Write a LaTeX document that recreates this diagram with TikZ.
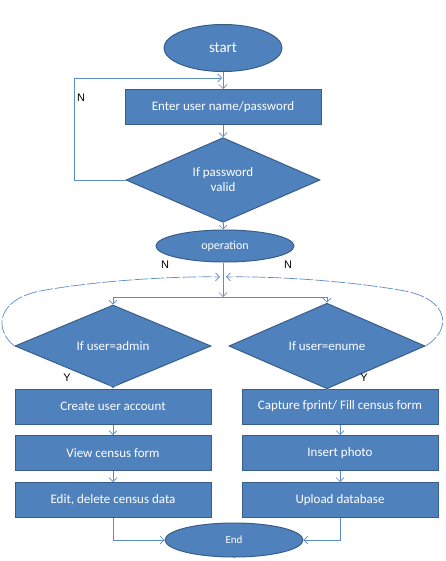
\documentclass[tikz,border=0pt]{standalone}
\usepackage{fontspec}
\setmainfont{Carlito}
\newfontfamily\lblfont{Liberation Sans}
\usetikzlibrary{shapes.geometric,arrows.meta}
\definecolor{boxfill}{HTML}{4F81BD}
\definecolor{boxline}{HTML}{385D8A}
\definecolor{connc}{HTML}{5B8BC9}
\begin{document}
\begin{tikzpicture}[x=1pt,y=-1pt,
  base/.style={fill=boxfill,draw=boxline,line width=1pt,text=white,inner sep=0pt,font=\fontsize{13}{15}\selectfont},
  procbox/.style={base,rectangle,minimum width=196pt,minimum height=35pt},
  decision/.style={base,diamond,minimum width=196pt,minimum height=60pt,align=center},
  term/.style={base,ellipse},
  conn/.style={draw=connc,line width=0.7pt},
  arr/.style={conn,-{Straight Barb[length=4pt,width=8pt]}},
  dconn/.style={arr,dash pattern=on 14pt off 2pt},
  lbl/.style={font=\lblfont\fontsize{11}{13}\selectfont,text=black,inner sep=0pt}]
\useasboundingbox (0,0) rectangle (445,561);
% nodes
\node[term,minimum width=118pt,minimum height=47pt,font=\fontsize{15}{17}\selectfont] (start) at (223,48) {start};
\node[procbox] (enter) at (223,107) {Enter user name/password};
\node[decision,minimum width=194pt,minimum height=59pt] (pw) at (223,180) {If password\\valid};
\node[term,minimum width=138pt,minimum height=32pt,font=\fontsize{12}{14}\selectfont] (op) at (225,246) {operation};
\node[decision] (ad) at (113,346) {If user=admin};
\node[decision] (en) at (327,346) {If user=enume};
\node[procbox] (a1) at (113,406.5) {Create user account};
\node[procbox] (a2) at (113,453) {View census form};
\node[procbox] (a3) at (113,500) {Edit, delete census data};
\node[procbox] (b1) at (340,406.5) {Capture fprint/ Fill census form};
\node[procbox] (b2) at (340,453) {Insert photo};
\node[procbox] (b3) at (340,500) {Upload database};
\node[term,minimum width=138pt,minimum height=34pt,font=\fontsize{11}{13}\selectfont] (endn) at (234,540) {End};
% labels
\node[lbl] (n1) at (81,98) {N};
\node[lbl] (n2) at (165,265) {N};
\node[lbl] (n3) at (288,265) {N};
\node[lbl] (y1) at (67,378) {Y};
\node[lbl] (y2) at (364,378) {Y};
% coordinates
\coordinate (loopA) at (74,180);
\coordinate (loopB) at (74,78);
\coordinate (loopC) at (222,78);
\coordinate (split) at (223,297);
\coordinate (splitL) at (113,297);
\coordinate (splitR) at (327,297);
\coordinate (mergeL) at (220,277);
\coordinate (mergeR) at (226,277);
% connectors
\draw[arr] (start.south) -- (enter.north);
\draw[arr] (enter.south) -- (pw.north);
\draw[arr] (pw.west) -- (loopA) -- (loopB) -- (loopC);
\draw[arr] (pw.south) -- (op.north -| pw.south);
\draw[arr] (op.south -| pw.south) -- (split);
\draw[conn] (splitL) -- (splitR);
\draw[arr] (splitL) -- (ad.north);
\draw[arr] (splitR) -- (en.north);
\draw[dconn] (ad.west) .. controls (-6,330) and (-4,300) .. (40,291) .. controls (100,280) and (180,276) .. (mergeL);
\draw[dconn] (en.east) .. controls (452,330) and (450,300) .. (405,291) .. controls (345,280) and (265,276) .. (mergeR);
\draw[arr] (ad.south) -- (a1.north);
\draw[arr] (a1.south) -- (a2.north);
\draw[arr] (a2.south) -- (a3.north);
\draw[arr] (en.south) -- (b1.north -| en.south);
\draw[arr] (b1.south) -- (b2.north);
\draw[arr] (b2.south) -- (b3.north);
\draw[arr] (a3.south) |- (endn.west);
\draw[arr] (b3.south) |- (endn.east);
\end{tikzpicture}
\end{document}
